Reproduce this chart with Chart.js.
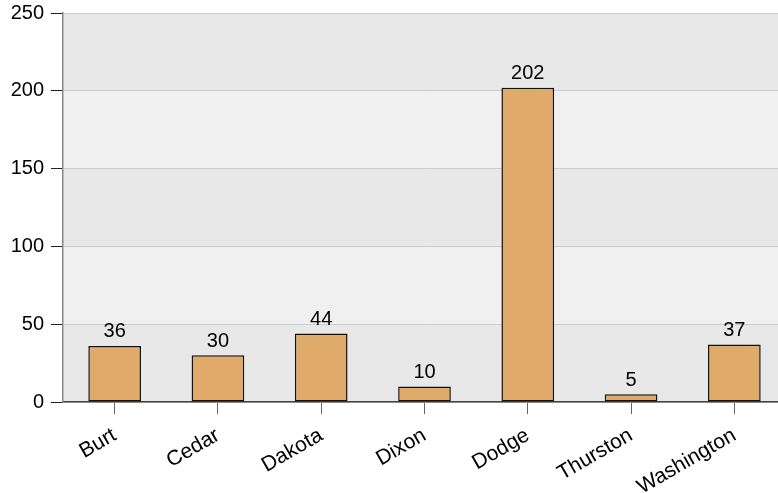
<!DOCTYPE html>
<html>
<head>
<meta charset="utf-8">
<script src="https://cdn.jsdelivr.net/npm/chart.js@4/dist/chart.umd.min.js"></script>
<style>
  html, body { margin: 0; padding: 0; background: #ffffff; overflow: hidden; }
  #wrap { width: 786px; height: 493px; }
</style>
</head>
<body>
<div id="wrap"><canvas id="countyChart"></canvas></div>
<script>
const counties = ["Burt", "Cedar", "Dakota", "Dixon", "Dodge", "Thurston", "Washington"];
const counts = [36, 30, 44, 10, 202, 5, 37];
const yTicks = [0, 50, 100, 150, 200, 250];

Chart.defaults.font.family = "'Liberation Sans', Arial, sans-serif";
Chart.defaults.color = "#000";

// alternating gray bands between y ticks
const bandPlugin = {
  id: "bands",
  beforeDraw(chart) {
    const { ctx, chartArea, scales } = chart;
    ctx.save();
    for (let i = 0; i < yTicks.length - 1; i++) {
      const top = scales.y.getPixelForValue(yTicks[i + 1]);
      const bottom = scales.y.getPixelForValue(yTicks[i]);
      ctx.fillStyle = i % 2 === 0 ? "#e8e8e8" : "#f0f0f0";
      ctx.fillRect(chartArea.left, top, chartArea.right - chartArea.left, bottom - top);
    }
    ctx.restore();
  },
};

// value written over each bar
const valueLabels = {
  id: "valueLabels",
  afterDatasetsDraw(chart) {
    const { ctx } = chart;
    const meta = chart.getDatasetMeta(0);
    ctx.save();
    ctx.font = "20px 'Liberation Sans', Arial, sans-serif";
    ctx.fillStyle = "#000";
    ctx.textAlign = "center";
    ctx.textBaseline = "bottom";
    meta.data.forEach((bar, i) => {
      ctx.fillText(String(counts[i]), bar.x, bar.y - 4);
    });
    ctx.restore();
  },
};

new Chart(document.getElementById("countyChart").getContext("2d"), {
  type: "bar",
  data: {
    labels: counties,
    datasets: [
      {
        data: counts,
        backgroundColor: "#dfaa6a",
        borderColor: "#111111",
        borderWidth: 1.5,
        borderSkipped: false,
        categoryPercentage: 1,
        barPercentage: 0.51,
      },
    ],
  },
  options: {
    responsive: true,
    maintainAspectRatio: false,
    animation: false,
    layout: { padding: { top: 13, right: 0, left: 0, bottom: 0 } },
    plugins: {
      legend: { display: false },
      tooltip: { enabled: false },
    },
    scales: {
      x: {
        grid: {
          offset: false,
          drawOnChartArea: false,
          drawTicks: true,
          tickLength: 12,
          tickColor: "#666",
        },
        border: { color: "#444", width: 1.5 },
        ticks: {
          font: { size: 21 },
          color: "#000",
          minRotation: 30,
          maxRotation: 30,
          padding: 9,
        },
        afterFit(scale) {
          scale.height = 91;
        },
      },
      y: {
        min: 0,
        max: 250,
        grid: {
          color: "#cccccc",
          tickLength: 12,
          tickColor: "#222",
        },
        border: { color: "#888", width: 1.5 },
        ticks: {
          stepSize: 50,
          font: { size: 20 },
          color: "#000",
          padding: 7,
        },
        afterFit(scale) {
          scale.width = 63;
          scale.paddingTop = 0;
          scale.paddingBottom = 0;
        },
      },
    },
  },
  plugins: [bandPlugin, valueLabels],
});
</script>
</body>
</html>
